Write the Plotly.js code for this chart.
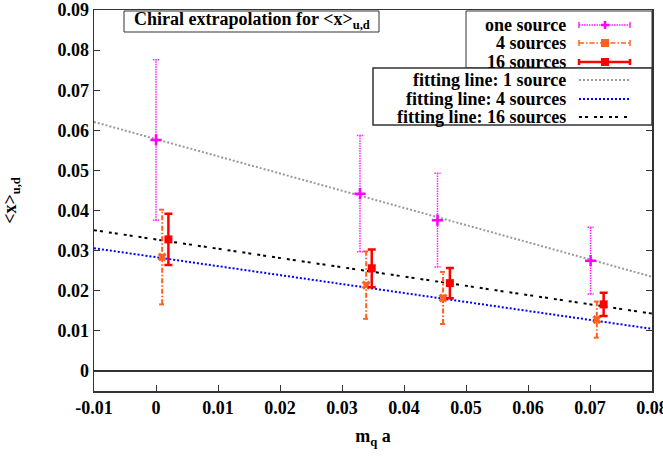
<!DOCTYPE html>
<html>
<head>
<meta charset="utf-8">
<script src="https://cdn.plot.ly/plotly-3.0.1.min.js"></script>
<style>
  body { margin: 0; background: #fff; }
  #plotArea { width: 663px; height: 465px; }
</style>
</head>
<body>
<div id="plotArea"></div>
<script>
var xOne = [0.0, 0.0329, 0.0454, 0.0701];
var yOne = [0.0576, 0.0442, 0.0376, 0.0275];
var errOne = [0.0200, 0.0145, 0.0117, 0.0083];

var xFour = [0.0010, 0.0339, 0.0463, 0.0711];
var yFour = [0.0284, 0.0214, 0.0182, 0.0128];
var errFour = [0.0118, 0.0084, 0.0065, 0.0045];

var xSixteen = [0.0020, 0.0348, 0.0474, 0.0722];
var ySixteen = [0.0328, 0.0256, 0.0219, 0.0166];
var errSixteen = [0.0064, 0.0047, 0.0038, 0.0029];

// fitting lines, ends at the axis limits
var fitX = [-0.01, 0.08];
var fitOne = [0.0621, 0.0235];
var fitFour = [0.0306, 0.0105];
var fitSixteen = [0.0351, 0.0143];

var xTicks = [-0.01, 0, 0.01, 0.02, 0.03, 0.04, 0.05, 0.06, 0.07, 0.08];
var xTickText = ["-0.01", "0", "0.01", "0.02", "0.03", "0.04", "0.05", "0.06", "0.07", "0.08"];
var yTicks = [0, 0.01, 0.02, 0.03, 0.04, 0.05, 0.06, 0.07, 0.08, 0.09];
var yTickText = ["0", "0.01", "0.02", "0.03", "0.04", "0.05", "0.06", "0.07", "0.08", "0.09"];

var serif = {family: "Liberation Serif", size: 18, color: "#000", weight: 700};

// error bars as line segments so they can be dotted / dash-dotted
function errSegments(xs, ys, es, cap) {
    var sx = [], sy = [];
    for (var i = 0; i < xs.length; i++) {
        var lo = ys[i] - es[i], hi = ys[i] + es[i];
        sx.push(xs[i], xs[i], null, xs[i] - cap, xs[i] + cap, null, xs[i] - cap, xs[i] + cap, null);
        sy.push(lo, hi, null, lo, lo, null, hi, hi, null);
    }
    return {x: sx, y: sy};
}

var segOne = errSegments(xOne, yOne, errOne, 0.0005);
var segFour = errSegments(xFour, yFour, errFour, 0.0005);

var traces = [
    {x: fitX, y: fitOne, mode: "lines", line: {color: "#999999", width: 2, dash: "2px,2px"}},
    {x: fitX, y: fitFour, mode: "lines", line: {color: "#0000ff", width: 2, dash: "2px,2px"}},
    {x: fitX, y: fitSixteen, mode: "lines", line: {color: "#000000", width: 2, dash: "3px,3px,3px,6px"}},
    {x: segOne.x, y: segOne.y, mode: "lines", line: {color: "#ff22ff", width: 1.5, dash: "1.5px,1px"}},
    {x: xOne, y: yOne, mode: "markers",
     marker: {symbol: "cross-thin", size: 8, line: {color: "#ff00ff", width: 2.5}}},
    {x: segFour.x, y: segFour.y, mode: "lines", line: {color: "#ff6020", width: 2, dash: "5px,2px,1.5px,2px"}},
    {x: xFour, y: yFour, mode: "markers",
     marker: {symbol: "x", size: 8, color: "#ff6020", line: {width: 0}}},
    {x: xSixteen, y: ySixteen, mode: "markers",
     error_y: {type: "data", array: errSixteen, color: "#ff0000", thickness: 2.5, width: 4},
     marker: {symbol: "square", size: 8, color: "#ff0000"}}
];

// paper coordinates from picture pixels
function px(x) { return (x - 94) / 558; }
function py(y) { return (391 - y) / 381; }

var shapes = [
    {type: "rect", xref: "paper", yref: "paper", x0: px(124), x1: px(379), y0: py(11), y1: py(32),
     line: {color: "#333", width: 1}, fillcolor: "#fff", layer: "above"},
    {type: "rect", xref: "paper", yref: "paper", x0: px(466), x1: 1, y0: py(11), y1: py(68),
     line: {color: "#333", width: 1}, fillcolor: "#fff", layer: "above"},
    {type: "rect", xref: "paper", yref: "paper", x0: px(373), x1: 1, y0: py(68), y1: py(125),
     line: {color: "#333", width: 1.5}, fillcolor: "#fff", layer: "above"}
];

var annotations = [
    {xref: "paper", yref: "paper", x: px(252), y: py(21), text: "Chiral extrapolation for &lt;x&gt;<sub>u,d</sub>",
     showarrow: false, font: serif, xanchor: "center", yanchor: "middle"}
];

var legendRows = [
    {name: "one source", y: 25, color: "#ff22ff", dash: "1.5px,1px", width: 1.5, mark: "plus"},
    {name: "4 sources", y: 43, color: "#ff6020", dash: "5px,2px,1.5px,2px", width: 1.5, mark: "blob"},
    {name: "16 sources", y: 62, color: "#ff0000", dash: "solid", width: 2.5, mark: "square"},
    {name: "fitting line: 1 source", y: 80, color: "#999999", dash: "2px,2px", width: 2},
    {name: "fitting line: 4 sources", y: 99, color: "#0000ff", dash: "2px,2px", width: 2},
    {name: "fitting line: 16 sources", y: 117, color: "#000000", dash: "3px,3px,3px,6px", width: 2}
];

legendRows.forEach(function (r) {
    annotations.push({xref: "paper", yref: "paper", x: px(568), y: py(r.y), text: r.name,
        showarrow: false, font: serif, xanchor: "right", yanchor: "middle"});
    shapes.push({type: "line", xref: "paper", yref: "paper", x0: px(579), x1: px(630), y0: py(r.y), y1: py(r.y),
        line: {color: r.color, width: r.width, dash: r.dash}, layer: "above"});
    if (r.mark) {
        [579, 630].forEach(function (cx) {
            shapes.push({type: "line", xref: "paper", yref: "paper", x0: px(cx), x1: px(cx),
                y0: py(r.y - 3), y1: py(r.y + 3), line: {color: r.color, width: r.width}, layer: "above"});
        });
        if (r.mark === "plus") {
            shapes.push({type: "line", xref: "paper", yref: "paper", x0: px(605), x1: px(605),
                y0: py(r.y - 4), y1: py(r.y + 4), line: {color: "#ff00ff", width: 2.5}, layer: "above"});
            shapes.push({type: "line", xref: "paper", yref: "paper", x0: px(601), x1: px(609),
                y0: py(r.y), y1: py(r.y), line: {color: "#ff00ff", width: 2.5}, layer: "above"});
        } else {
            shapes.push({type: "rect", xref: "paper", yref: "paper", x0: px(601), x1: px(609),
                y0: py(r.y - 4), y1: py(r.y + 4), line: {width: 0}, fillcolor: r.color, layer: "above"});
        }
    }
});

var axisCommon = {
    showgrid: false, showline: true, linecolor: "#333", linewidth: 1.5,
    ticks: "inside", ticklen: 6, tickcolor: "#333", tickwidth: 1,
    tickfont: serif, automargin: false, ticklabeloverflow: "allow"
};

var layout = {
    width: 663, height: 465,
    margin: {l: 94, r: 11, t: 10, b: 74},
    paper_bgcolor: "#fff", plot_bgcolor: "#fff",
    font: serif,
    showlegend: false,
    xaxis: Object.assign({}, axisCommon, {
        range: [-0.01, 0.08], tickvals: xTicks, ticktext: xTickText, mirror: true, zeroline: false,
        title: {text: "m<sub>q</sub> a", font: serif, standoff: 12}
    }),
    yaxis: Object.assign({}, axisCommon, {
        range: [-0.005, 0.09], tickvals: yTicks, ticktext: yTickText, mirror: "ticks",
        zeroline: true, zerolinecolor: "#333", zerolinewidth: 1.5,
        title: {text: "&lt;x&gt;<sub>u,d</sub>", font: serif, standoff: 40}
    }),
    shapes: shapes,
    annotations: annotations
};

Plotly.newPlot("plotArea", traces, layout, {displayModeBar: false, staticPlot: true});
</script>
</body>
</html>
